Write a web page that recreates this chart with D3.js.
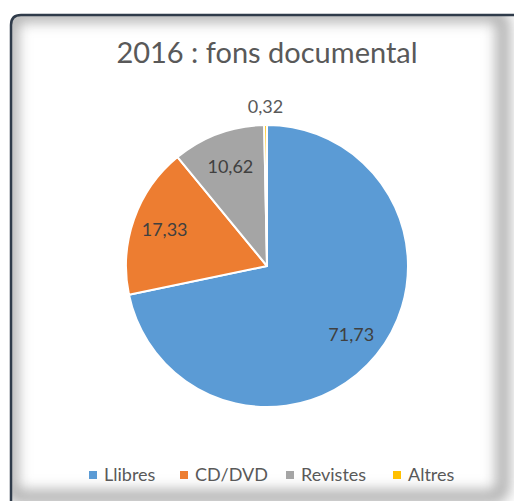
<!DOCTYPE html>
<html><head><meta charset="utf-8">
<script src="https://cdn.jsdelivr.net/npm/d3@7"></script>
<style>html,body{margin:0;padding:0;background:#fff;}svg{display:block;}</style>
</head><body>
<script>
const categories = ["Llibres", "CD/DVD", "Revistes", "Altres"];
const values = [71.73, 17.33, 10.62, 0.32];
const labels = ["71,73", "17,33", "10,62", "0,32"];
const colors = ["#5b9bd5", "#ed7d31", "#a5a5a5", "#ffc000"];
const title = "2016 : fons documental";

const W = 514, H = 501;
const FONT = "Lato, 'Open Sans', sans-serif";
const svg = d3.select("body").append("svg").attr("width", W).attr("height", H);
const defs = svg.append("defs");

// frame with inner shadow
const fx = 11, fy = 15, fw = 530, fh = 500, fr = 10;
defs.append("clipPath").attr("id", "fclip").append("rect")
  .attr("x", fx).attr("y", fy).attr("width", fw).attr("height", fh).attr("rx", fr);
const blur = defs.append("filter").attr("id", "blur").attr("x", "-20%").attr("y", "-20%").attr("width", "140%").attr("height", "140%");
blur.append("feGaussianBlur").attr("stdDeviation", 7);
svg.append("rect").attr("x", fx).attr("y", fy).attr("width", fw).attr("height", fh).attr("rx", fr).attr("fill", "#fff");
const g0 = svg.append("g").attr("clip-path", "url(#fclip)");
g0.append("rect").attr("x", fx).attr("y", fy).attr("width", 503 - fx).attr("height", 497 - fy)
  .attr("rx", fr).attr("fill", "none").attr("stroke", "#a8a8a8").attr("stroke-width", 13).attr("filter", "url(#blur)");
// dark top/left border
svg.append("path")
  .attr("d", `M${fx},${H} L${fx},${fy + fr} Q${fx},${fy} ${fx + fr},${fy} L${W},${fy}`)
  .attr("fill", "none").attr("stroke", "#2f3b4a").attr("stroke-width", 2.5);

// title
svg.append("text").attr("x", 267).attr("y", 63).attr("text-anchor", "middle")
  .attr("font-family", FONT).attr("font-size", 29).attr("fill", "#595959").text(title);

// pie
const cx = 267, cy = 266, R = 141;
const pie = d3.pie().sort(null).value(d => d)(values);
const arc = d3.arc().innerRadius(0).outerRadius(R);
const g = svg.append("g").attr("transform", `translate(${cx},${cy})`);
g.selectAll("path").data(pie).join("path")
  .attr("d", arc).attr("fill", (d, i) => colors[i])
  .attr("stroke", "#fff").attr("stroke-width", 2).attr("stroke-linejoin", "round");

const labelRadius = [R * 0.77, R * 0.77, R * 0.75, R + 18];
g.selectAll("text").data(pie).join("text")
  .attr("transform", (d, i) => {
    const c = d3.arc().innerRadius(labelRadius[i]).outerRadius(labelRadius[i]).centroid(d);
    return `translate(${c[0]},${c[1]})`;
  })
  .attr("text-anchor", "middle").attr("dy", "0.35em")
  .attr("font-family", FONT).attr("font-size", 18)
  .attr("fill", (d, i) => i === 3 ? "#595959" : "#404040")
  .text((d, i) => labels[i]);

// legend
const legX = [89, 180, 286, 393];
const leg = svg.append("g");
categories.forEach((c, i) => {
  leg.append("rect").attr("x", legX[i]).attr("y", 471).attr("width", 8).attr("height", 8).attr("fill", colors[i]);
  leg.append("text").attr("x", legX[i] + 15).attr("y", 475).attr("dy", "0.35em")
    .attr("font-family", FONT).attr("font-size", 18).attr("fill", "#595959").text(c);
});
</script>
</body></html>
